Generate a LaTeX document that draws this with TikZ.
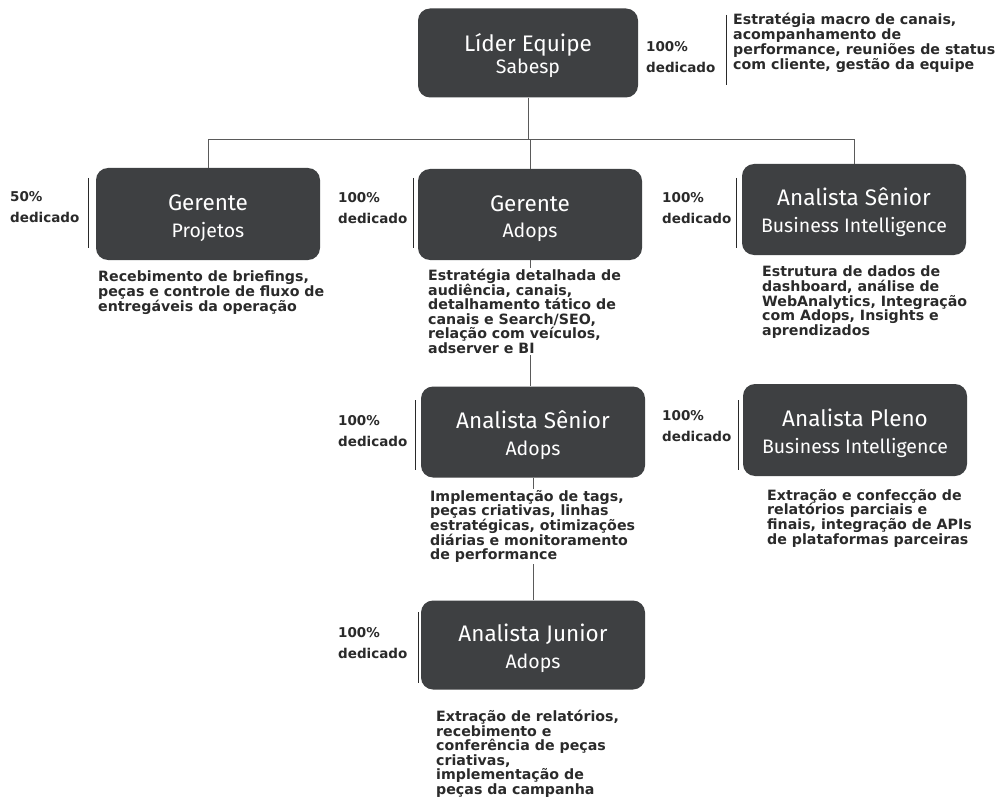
\documentclass[tikz,border=0pt]{standalone}
\usepackage{fontspec}
\setmainfont{Fira Sans}
\newfontfamily\descfont{DejaVu Sans}
\definecolor{boxgray}{HTML}{3E4042}
\definecolor{inkgray}{HTML}{2A2A2A}
\definecolor{linkgray}{HTML}{5A5A5A}
\tikzset{
  cargo/.style={fill=boxgray, rounded corners=12pt, text=white, minimum width=224pt,
    minimum height=91pt, align=center, inner sep=2pt, font=\fontsize{19.5}{27}\selectfont},
  desc/.style={anchor=north west, align=left, text=inkgray, fill=white, inner sep=1pt,
    font=\descfont\bfseries\fontsize{14.2}{14.6}\selectfont},
  dedic/.style={anchor=west, align=left, text=inkgray, inner sep=0pt,
    font=\descfont\bfseries\fontsize{13.5}{21}\selectfont},
  link/.style={draw=linkgray, line width=0.7pt},
  sepline/.style={draw=inkgray, line width=1pt}
}
\newcommand{\cargotext}[2]{{\fontsize{22.5}{27}\selectfont\rule{0pt}{26pt}#1}\\\rule[-6pt]{0pt}{6pt}#2}

\begin{document}
\begin{tikzpicture}[x=1pt, y=-1pt]
  \useasboundingbox[fill=white] (0,0) rectangle (996,805);

  % boxes
  \node[cargo, minimum width=220pt, minimum height=89pt, font=\fontsize{19.5}{22}\selectfont] (lider) at (528,53) {\cargotext{Líder Equipe}{Sabesp}};
  \node[cargo, minimum height=92pt] (gp) at (208,214) {\cargotext{Gerente}{Projetos}};
  \node[cargo] (ga) at (530,214.5) {\cargotext{Gerente}{Adops}};
  \node[cargo] (asbi) at (854,209.5) {\cargotext{Analista Sênior}{Business Intelligence}};
  \node[cargo] (asa) at (533,432) {\cargotext{Analista Sênior}{Adops}};
  \node[cargo, minimum height=92pt] (apbi) at (855,430) {\cargotext{Analista Pleno}{Business Intelligence}};
  \node[cargo, minimum height=89pt] (aj) at (533,645) {\cargotext{Analista Junior}{Adops}};

  % connectors
  \draw[link] (lider.south) -- ++(0,42) coordinate (hub);
  \draw[link] (hub) -| (gp.north);
  \draw[link] (hub) -| (ga.north);
  \draw[link] (hub) -| (asbi.north);
  \draw[link] (ga.south) -- (ga.south |- asa.north);
  \draw[link] (asa.south) -- (asa.south |- aj.north);

  % dedication
  \node[dedic] (dlider) at (646,57) {100\%\\dedicado};
  \node[dedic] (dgp) at (10,207) {50\%\\dedicado};
  \node[dedic] (dga) at (338,208) {100\%\\dedicado};
  \node[dedic] (dasbi) at (662,208) {100\%\\dedicado};
  \node[dedic] (dasa) at (338,431) {100\%\\dedicado};
  \node[dedic] (dapbi) at (662,426) {100\%\\dedicado};
  \node[dedic] (daj) at (338,643) {100\%\\dedicado};
  \draw[sepline] (726,15) -- (726,85);
  \draw[sepline] (88,178) -- (88,248);
  \draw[sepline] (413,178) -- (413,248);
  \draw[sepline] (736,178) -- (736,248);
  \draw[sepline] (415,400) -- (415,470);
  \draw[sepline] (738,400) -- (738,470);
  \draw[sepline] (418,612) -- (418,683);

  % descriptions
  \node[desc, font=\descfont\bfseries\fontsize{14.2}{13.4}\selectfont] (tlider) at (732,12)
    {Estratégia macro de canais,\\acompanhamento de\\performance, reuniões de status\\com cliente, gestão da equipe};
  \node[desc] (tgp) at (97,270)
    {Recebimento de briefings,\\peças e controle de fluxo de\\entregáveis da operação};
  \node[desc] (tga) at (427,268)
    {Estratégia detalhada de\\audiência, canais,\\detalhamento tático de\\canais e Search/SEO,\\relação com veículos,\\adserver e BI};
  \node[desc] (tasbi) at (761,265)
    {Estrutura de dados de\\dashboard, análise de\\WebAnalytics, Integração\\com Adops, Insights e\\aprendizados};
  \node[desc] (tasa) at (429,489)
    {Implementação de tags,\\peças criativas, linhas\\estratégicas, otimizações\\diárias e monitoramento\\de performance};
  \node[desc] (tapbi) at (766,488)
    {Extração e confecção de\\relatórios parciais e\\finais, integração de APIs\\de plataformas parceiras};
  \node[desc] (taj) at (435,709)
    {Extração de relatórios,\\recebimento e\\conferência de peças\\criativas,\\implementação de\\peças da campanha};
\end{tikzpicture}
\end{document}
